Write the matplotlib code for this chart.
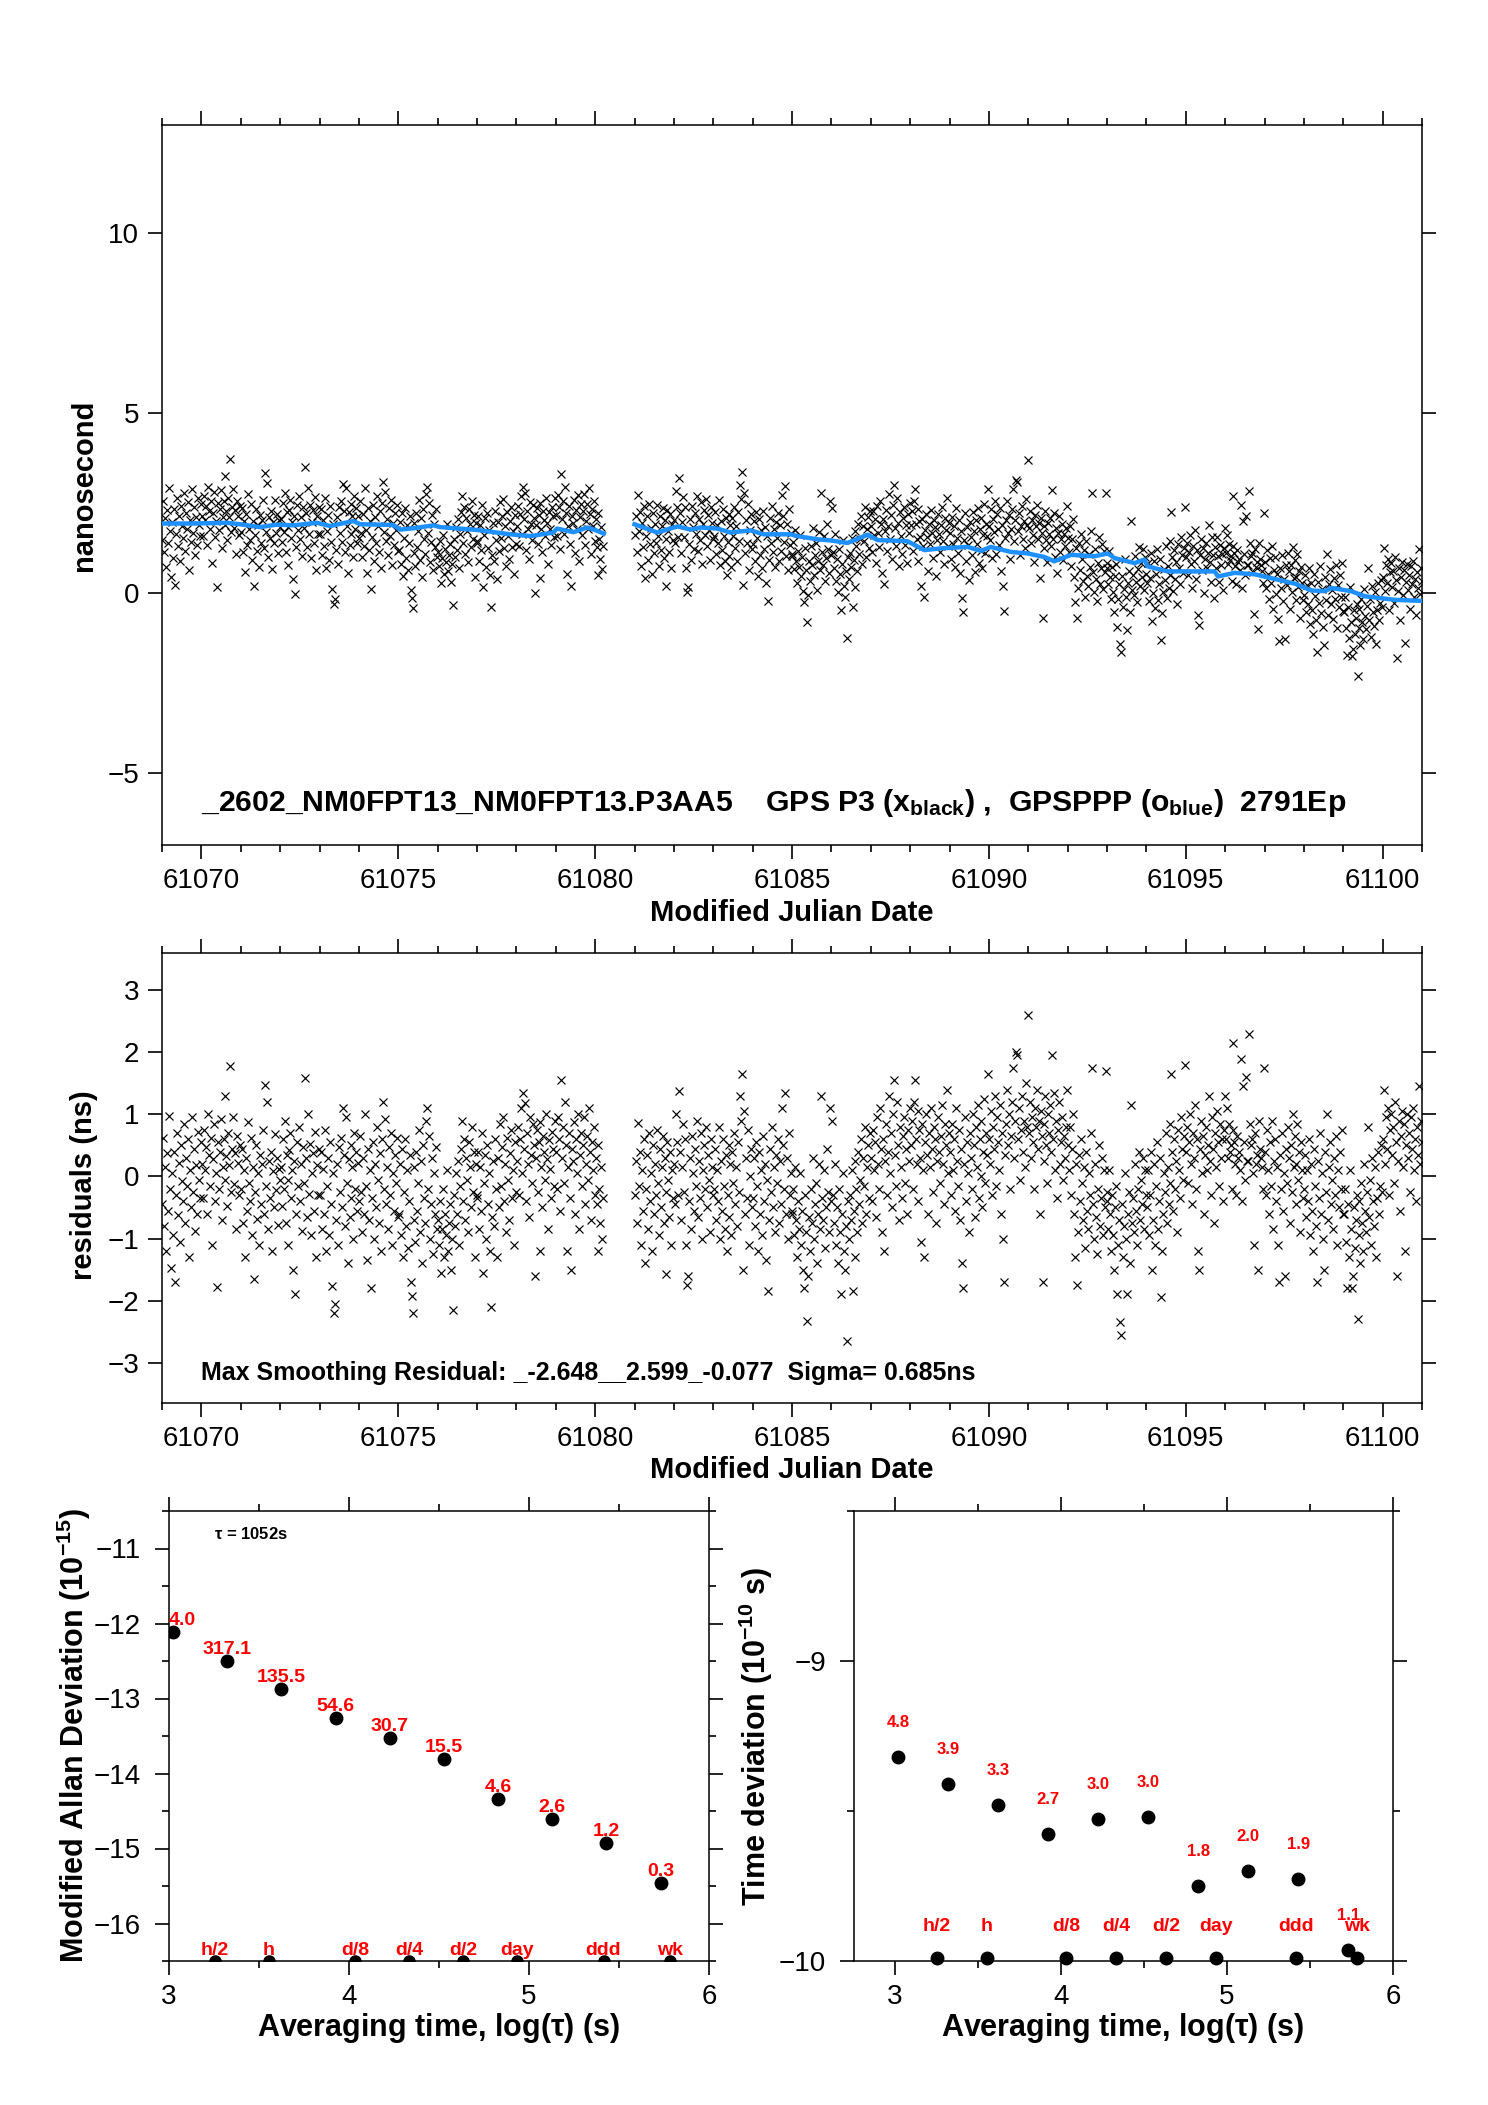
import numpy as np
import matplotlib
matplotlib.use('Agg')
import matplotlib.pyplot as plt
from matplotlib.ticker import MultipleLocator

plt.rcParams['font.family'] = ['Liberation Sans', 'DejaVu Sans']
plt.rcParams['mathtext.fontset'] = 'custom'
plt.rcParams['mathtext.rm'] = 'Liberation Sans:bold'
plt.rcParams['mathtext.it'] = 'Liberation Sans:bold'
plt.rcParams['mathtext.bf'] = 'Liberation Sans:bold'
plt.rcParams['mathtext.default'] = 'rm'

##### residuals (hundredths of ns), one list per MJD day
r69 = [-45, 62, -80, 15, -120, 38, -55, 98, -20, -148, 5, -95, 40, -170, -30, 70, -62, 22, -105, 50, -8, -40, 85, -75, 30, -15, 60, -130, 10, -50, 95, -25, 45, -88, 18, -60, 72, -5, -35, 55]
r70 = [20, -35, 75, 10, 48, -60, 100, 35, -15, 62, -110, 28, 85, -40, 5, -178, 55, -20, 40, 92, -70, 15, 60, -5, 130, 33, -48, 70, 18, 178, -25, 45, 95, -12, 38, -85, 65, 22, -30, 50]
r71 = [-20, 45, -75, 10, -130, 30, -55, 88, -10, -40, 62, -95, 15, -165, -25, 50, -68, 5, -110, 35, -45, 20, 75, -60, 147, -15, 120, -85, 25, -35, 40, -120, 8, -50, 68, -22, 30, -78, 12, -5]
r72 = [15, -48, 60, -20, 90, -75, 35, -5, -110, 42, 70, -35, 10, -150, 25, -190, -60, 55, -15, 80, -40, 20, -88, 48, -10, 158, 30, -65, 100, -28, 52, -95, 5, 38, -55, 72, -130, 18, -30, 45]
r73 = [-30, 40, -85, 12, -60, 75, -120, -15, 30, -95, 55, -45, -176, 5, -220, -205, -70, 20, -110, 48, -25, 62, -50, 110, 35, -80, 95, -10, -140, 28, -65, 50, -35, 15, -100, 70, -20, 40, -55, 22]
r74 = [-40, 65, -25, -90, 30, -60, 100, -15, -135, 45, -70, 10, -180, -35, 55, -100, 20, -50, 80, -5, -75, 38, -120, 60, 120, -20, 92, -45, 15, -85, 48, -30, 70, -110, 5, -55, 35, -10, 62, -65]
r75 = [-60, 20, -95, 45, -130, -25, 60, -80, 10, -115, -40, 35, -170, -193, -220, -70, 15, -105, 40, -55, -10, 75, -90, 25, -140, 50, -35, -75, 90, 110, -20, 65, -100, -45, 30, -125, 5, -60, 48, -85]
r76 = [-70, -110, -40, -155, -85, -20, -130, -60, -95, 10, -120, -75, -45, -150, -100, -215, -30, -80, 5, -60, 25, -110, -15, 45, 90, -40, 60, -70, 30, -5, -90, 55, 15, -50, 80, -25, 40, -130, 20, -35]
r77 = [-30, 40, -85, 15, -55, 70, -155, -10, 35, -100, 50, -45, 5, -120, -210, -65, 25, -80, 60, -20, -130, 30, -50, 85, -15, 48, 95, -40, 20, -90, 62, -5, -70, 38, 75, -35, 10, -110, 55, -25]
r78 = [25, 80, -30, 60, 110, 5, 135, 45, 118, -40, 70, 20, -65, 95, 35, -10, 85, 50, -160, 30, 75, -25, 55, -120, 88, 15, -50, 65, 40, -5, 100, 28, -85, 58, 12, -35, 72, 45, -15, 90]
r79 = [40, -20, 95, 60, -55, 155, 30, 80, -10, 120, 50, -120, 15, 70, -35, -150, 45, 25, 88, -60, 60, 5, 100, -85, 35, 70, -15, 50, 95, -45, 20, 65, -5, 110, 40, -70, 55, 10, 80, -30]
r80 = [30, -45, 50, -120, -20, -75, 15, -100, -35]
r81 = [-30, 25, -75, 86, -15, 40, -110, 10, -55, 60, -140, -20, 35, -85, 70, -40, 5, -120, 50, -60, 20, -30, 75, -10, -95, 45, -50, 15, 65, -75, 30, -25, -157, 55, -5, -65, 40, -110, 10, -35]
r82 = [20, -45, 100, 55, -30, 137, 40, -70, 15, 85, -25, 60, -110, -175, -160, -40, 30, -85, 65, 5, -55, 45, -15, 90, -65, 25, -35, 70, -100, 10, 50, -20, 80, -50, 35, -5, -90, 60, 15, -30]
r83 = [-20, 45, -70, 10, -40, 80, -100, 25, -55, 60, -15, -85, 35, -120, -30, 50, -65, 20, -95, 40, -10, 70, -45, 15, -80, 55, -25, 130, 90, 165, -150, 105, -60, 30, -35, 75, -110, 0, 45, -50]
r84 = [-35, 30, -80, 55, -15, -120, 40, -60, 10, -95, 65, -40, 20, -135, -5, -185, -70, 45, -25, 80, -50, 15, -90, 35, -10, 60, -75, 25, -45, 110, 50, -20, 135, -60, 30, -100, 70, -30, 5, -55]
r85 = [-60, -20, -95, 15, -70, -130, -40, -85, 5, -110, -55, -150, -180, -30, -90, -233, -160, -65, -120, -20, -75, 30, -100, -45, -10, -140, -60, 20, -85, 130, -35, -70, 10, -115, -50, 45, -25, -90, 110, -40]
r86 = [90, -30, -75, 20, -110, -50, -140, -20, -90, -190, -60, 5, -120, -150, -80, -265, -40, -100, -30, -70, 10, -185, -55, -130, 25, -20, -90, 40, -45, -5, 60, -75, 30, -15, 80, -60, 15, 50, -35, 70]
r87 = [30, -40, 75, 10, 55, -65, 95, 20, -20, 110, 45, -90, 60, -120, 25, 85, -30, 40, 130, 5, 70, -50, 100, 155, 35, -15, 120, 50, -70, 80, 15, -35, 65, 95, -10, 45, -60, 75, 25, 110]
r88 = [50, 90, -20, 120, 155, 60, 20, 105, -40, 75, 30, -105, 85, 10, -130, 55, 100, 35, -60, 70, 15, 110, 45, -25, 80, 60, -75, 25, 95, 40, -10, 65, 115, 20, -45, 85, 50, 140, 5, 70]
r89 = [40, -30, 85, 10, 60, -55, 110, 25, -15, 75, -70, 45, -140, -180, 20, 95, -40, 55, 5, -90, 70, 30, -20, 100, 50, -65, 80, 15, 115, -35, 60, 0, 90, -50, 40, 125, -10, 70, 35, 165]
r90 = [60, 20, 105, -30, 80, 45, 130, -15, 95, 55, 10, 115, -60, 70, -100, -170, 35, 85, 140, 50, 100, -20, 65, 120, 175, 30, 90, 200, 195, 60, 110, -5, 75, 130, 40, 90, 15, 150, 80, 260]
r91 = [70, 120, 30, 95, 55, -20, 110, 80, 140, 45, 90, -60, 105, 65, -170, 25, 85, 130, 50, -10, 100, 70, 115, 40, 195, 60, 135, 10, 90, -35, 75, 120, 20, 55, 95, -5, 65, 30, 80, 140]
r92 = [50, 10, 80, -30, 45, 100, -60, -130, 20, -175, -90, 35, -40, 60, -10, -70, 15, -115, 40, -55, -85, 5, -30, 70, 175, -45, -100, 20, -65, -125, -20, 50, -80, -35, 30, -95, 10, -50, 170, -25]
r93 = [-40, -85, 10, -60, -120, -30, -95, -150, -50, -15, -190, -110, -70, -235, -255, -45, -130, -80, 5, -100, -190, -60, -25, -140, 115, -75, -35, -90, 20, -55, -110, -20, 40, -70, -5, -45, 30, -85, 10, -30]
r94 = [-50, 10, -95, -30, 40, -150, -70, 20, -110, -15, 55, -85, -40, 30, -195, -120, -60, 5, -25, 70, -75, 15, -45, 85, -10, 165, 40, -55, 60, -20, 25, -90, 75, 10, -35, 95, 45, -5, 65, 180]
r95 = [40, 80, -10, 55, 100, 20, -45, 70, 30, 115, -20, 60, -120, -150, 45, 90, 5, 65, -60, 35, 80, 10, 50, 130, 25, -30, 95, 45, -75, 70, 15, 105, 55, -15, 85, 30, 60, -40, 75, 130]
r96 = [60, 110, 30, 85, 40, 50, -20, 215, 75, 55, 20, -30, 65, 30, 40, 10, 190, -40, 145, 55, -5, 160, 25, 25, 230, 85, 50, 60, 5, -110, 70, 20, 35, -150, 90, 45, 30, 15, -20, 175]
r97 = [40, -30, 75, 10, -60, 55, -15, 90, -85, 25, 60, -40, 15, -110, -170, 35, -20, 70, -55, 5, -160, 45, -10, 80, 30, -75, 50, -25, 100, 15, 65, -45, 20, 85, -5, 40, -90, 55, 10, -35]
r98 = [-20, 35, -65, 10, -40, 60, -95, 20, -55, -120, 45, -15, -80, -170, 25, -35, 70, -60, 5, -100, -150, 40, -25, 100, -70, 15, 55, -45, -5, -85, 30, -30, 65, -110, 10, -50, 40, -20, 75, -60]
r99 = [-60, -20, -105, -180, -45, -130, 10, -85, -180, -160, -50, -115, -70, -30, -230, -95, -40, -140, -10, -75, -120, 20, -55, -90, -25, 80, -65, -5, -110, 30, -40, -80, 15, -130, -35, 40, -60, -15, 50, -25]
r100 = [60, 140, 20, 95, 45, 110, -30, 75, 100, 35, 80, -10, 120, 55, -160, 25, 90, -55, 65, 105, 15, 85, -120, 50, 100, 30, 70, -25, 95, 45, 110, 10, 60, -40, 80, 35, 145, 20, 90, 55]

days = list(range(61069, 61101))
res_lists = [r69, r70, r71, r72, r73, r74, r75, r76, r77, r78, r79, r80, r81, r82, r83, r84,
             r85, r86, r87, r88, r89, r90, r91, r92, r93, r94, r95, r96, r97, r98, r99, r100]
day_span = {61080: 0.22}   # data stops early that day (gap up to 61081)

##### smoothing curve (GPSPPP, blue), two pieces around the gap
trend_t1 = [61069.0, 61069.8, 61070.64, 61070.98, 61071.49, 61071.92, 61072.34, 61072.93, 61073.27, 61073.86,
            61074.03, 61074.87, 61075.05, 61075.39, 61075.9, 61076.07, 61076.9, 61077.08, 61077.85, 61078.36,
            61078.94, 61079.03, 61079.45, 61079.8, 61080.0, 61080.22]
trend_v1 = [1.93, 1.93, 1.95, 1.91, 1.83, 1.90, 1.88, 1.95, 1.86, 2.00,
            1.91, 1.89, 1.76, 1.80, 1.88, 1.83, 1.76, 1.74, 1.63, 1.58,
            1.68, 1.79, 1.69, 1.82, 1.75, 1.65]
trend_t2 = [61081.0, 61081.58, 61082.09, 61082.43, 61082.68, 61083.1, 61083.44, 61083.95, 61084.28, 61084.97,
            61085.14, 61085.65, 61085.98, 61086.41, 61086.92, 61087.17, 61087.93, 61088.36, 61088.78, 61089.46,
            61089.8, 61090.05, 61090.56, 61090.98, 61091.41, 61091.66, 61092.09, 61092.68, 61093.02, 61093.19,
            61093.7, 61093.95, 61094.03, 61094.54, 61094.97, 61095.73, 61095.82, 61096.24, 61096.75, 61097.26,
            61097.77, 61098.19, 61098.53, 61098.7, 61099.2, 61099.55, 61100.31, 61101.0]
trend_v2 = [1.91, 1.68, 1.85, 1.76, 1.82, 1.79, 1.68, 1.74, 1.63, 1.63,
            1.58, 1.49, 1.46, 1.39, 1.62, 1.47, 1.44, 1.19, 1.24, 1.28,
            1.17, 1.28, 1.14, 1.10, 1.00, 0.88, 1.06, 1.02, 1.10, 0.97,
            0.83, 0.93, 0.74, 0.60, 0.60, 0.60, 0.46, 0.56, 0.52, 0.39,
            0.26, 0.07, 0.05, 0.14, 0.05, -0.09, -0.19, -0.22]

##### stability plots
log_tau = [3.022, 3.323, 3.624, 3.925, 4.226, 4.527, 4.828, 5.129, 5.430, 5.731]
mdev = [-12.11, -12.50, -12.87, -13.26, -13.52, -13.81, -14.34, -14.60, -14.92, -15.46]
mdev_lbl = ['4.0', '317.1', '135.5', '54.6', '30.7', '15.5', '4.6', '2.6', '1.2', '0.3']
tdev = [-9.32, -9.41, -9.48, -9.575, -9.525, -9.52, -9.75, -9.70, -9.725, -9.963]
tdev_lbl = ['4.8', '3.9', '3.3', '2.7', '3.0', '3.0', '1.8', '2.0', '1.9', '1.1']
mark_tau = [3.255, 3.556, 4.033, 4.334, 4.635, 4.936, 5.414, 5.782]
mark_lbl = ['h/2', 'h', 'd/8', 'd/4', 'd/2', 'day', 'ddd', 'wk']

W, H = 1488, 2105


def box(l, t, r, b):
    return [l / W, 1 - b / H, (r - l) / W, (b - t) / H]


def ptext(x, y, s, **kw):
    fig.text(x / W, 1 - y / H, s, ha='center', va='center', **kw)


# sample times, residuals and raw data
t_all, res_all = [], []
for d, vals in zip(days, res_lists):
    n = len(vals)
    span = day_span.get(d, 1.0)
    t_all.append(d + (np.arange(n) + 0.5) / n * span)
    res_all.append(np.array(vals) / 100.0)
t_all = np.concatenate(t_all)
res_all = np.concatenate(res_all)
smooth = np.interp(t_all, trend_t1 + trend_t2, trend_v1 + trend_v2)
raw = res_all + smooth

fig = plt.figure(figsize=(W / 100, H / 100), dpi=100)

tick_kw = dict(direction='out', labelsize=20, width=1.2, pad=6.5)


def style_mjd(ax):
    ax.set_xlim(61069, 61101)
    ax.xaxis.set_major_locator(MultipleLocator(5))
    ax.xaxis.set_minor_locator(MultipleLocator(1))
    ax.tick_params(axis='both', which='both', top=True, right=True, **tick_kw)
    ax.tick_params(which='major', length=10)
    ax.tick_params(which='minor', length=5)
    ax.xaxis.set_major_formatter(plt.FuncFormatter(lambda v, p: '%d' % v))
    for s in ax.spines.values():
        s.set_linewidth(1.1)


# ---- top: raw data + smoothing
ax1 = fig.add_axes(box(162, 125, 1422, 845))
ax1.plot(t_all, raw, 'x', color='k', ms=5.8, mew=0.85)
ax1.plot(trend_t1, trend_v1, color='#1E90FF', lw=3.2, zorder=3)
ax1.plot(trend_t2, trend_v2, color='#1E90FF', lw=3.2, zorder=3)
ax1.set_ylim(-7, 13)
ax1.yaxis.set_major_locator(MultipleLocator(5))
style_mjd(ax1)
ax1.text(61070, -6.06, '_2602_NM0FPT13_NM0FPT13.P3AA5    GPS P3 (x$_{black}$) ,  GPSPPP (o$_{blue}$)  2791Ep',
         fontsize=21.7, fontweight='bold', ha='left', va='baseline')
ptext(84, 485, 'nanosecond', fontsize=21, fontweight='bold', rotation=90)
ptext(792, 913, 'Modified Julian Date', fontsize=21, fontweight='bold')

# ---- middle: residuals
ax2 = fig.add_axes(box(162, 953, 1422, 1403))
ax2.plot(t_all, res_all, 'x', color='k', ms=5.8, mew=0.85)
ax2.set_ylim(-3.65, 3.6)
ax2.yaxis.set_major_locator(MultipleLocator(1))
style_mjd(ax2)
ax2.yaxis.set_minor_locator(MultipleLocator(1))
ax2.text(61070, -3.28, 'Max Smoothing Residual: _-2.648__2.599_-0.077  Sigma= 0.685ns',
         fontsize=18, fontweight='bold', ha='left', va='baseline')
ptext(84, 1185, 'residuals (ns)', fontsize=21, fontweight='bold', rotation=90)
ptext(792, 1470, 'Modified Julian Date', fontsize=21, fontweight='bold')


def style_tau(ax, xmin):
    ax.set_xlim(xmin, 6)
    ax.xaxis.set_major_locator(MultipleLocator(1))
    ax.xaxis.set_minor_locator(MultipleLocator(0.5))
    ax.yaxis.set_major_locator(MultipleLocator(1))
    ax.yaxis.set_minor_locator(MultipleLocator(0.5))
    ax.tick_params(axis='both', which='both', top=True, right=True, **tick_kw)
    ax.tick_params(axis='y', pad=10)
    ax.tick_params(which='major', length=10)
    ax.tick_params(which='minor', length=5)
    for s in ax.spines.values():
        s.set_linewidth(1.1)


# ---- bottom left: modified Allan deviation
ax3 = fig.add_axes(box(169, 1511, 709, 1961))
style_tau(ax3, 3)
ax3.set_ylim(-16.5, -10.5)
ax3.plot(log_tau, mdev, 'o', color='k', ms=9)
for i, (x, y, s) in enumerate(zip(log_tau, mdev, mdev_lbl)):
    if i == 0:
        ax3.annotate(s, (3.0, y), xytext=(0, 5), textcoords='offset points', ha='left', va='baseline',
                     color='red', fontsize=14, fontweight='bold')
    else:
        ax3.annotate(s, (x, y), xytext=(0, 5), textcoords='offset points', ha='center', va='baseline',
                     color='red', fontsize=14, fontweight='bold')
ax3.plot(mark_tau, [-16.5] * len(mark_tau), 'o', color='k', ms=8)
for x, s in zip(mark_tau, mark_lbl):
    ax3.annotate(s, (x, -16.5), xytext=(0, 4), textcoords='offset points', ha='center', va='baseline',
                 color='red', fontsize=14, fontweight='bold')
ax3.text(3.25, -10.87, '$\\tau$ = 1052s', fontsize=12, fontweight='bold', ha='left', va='baseline')
ptext(74, 1736, 'Modified Allan Deviation (10$^{-15}$)', fontsize=22, fontweight='bold', rotation=90)
ptext(439, 2028, 'Averaging time, log($\\tau$) (s)', fontsize=22, fontweight='bold')

# ---- bottom right: time deviation
ax4 = fig.add_axes(box(854, 1511, 1393, 1961))
style_tau(ax4, 2.755)
ax4.set_ylim(-10, -8.5)
ax4.plot(log_tau, tdev, 'o', color='k', ms=9, clip_on=False)
for x, y, s in zip(log_tau, tdev, tdev_lbl):
    ax4.annotate(s, (x, y), xytext=(0, 21.5), textcoords='offset points', ha='center', va='baseline',
                 color='red', fontsize=12, fontweight='bold')
ax4.plot(mark_tau, [-9.99] * len(mark_tau), 'o', color='k', ms=9, clip_on=False)
for x, s in zip(mark_tau, mark_lbl):
    ax4.annotate(s, (x, -10), xytext=(0, 21.5), textcoords='offset points', ha='center', va='baseline',
                 color='red', fontsize=14, fontweight='bold')
ptext(756, 1736, 'Time deviation (10$^{-10}$ s)', fontsize=22, fontweight='bold', rotation=90)
ptext(1123, 2028, 'Averaging time, log($\\tau$) (s)', fontsize=22, fontweight='bold')

fig.savefig('out.png', dpi=100)
